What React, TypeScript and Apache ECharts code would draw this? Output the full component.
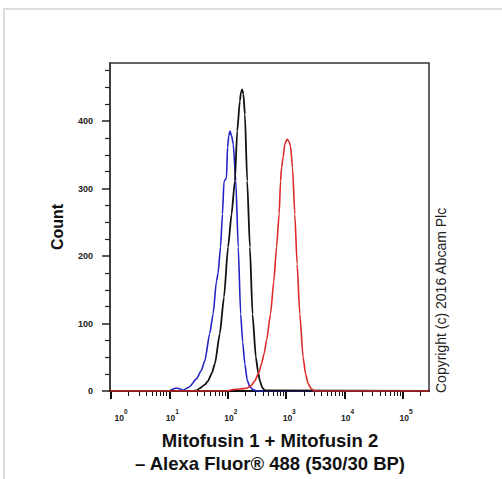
import React, { useEffect, useRef } from "react";
import * as echarts from "echarts";

// Fluorescence intensity (linear units) and event counts
const blueX = [0.96, 10, 11, 12.5, 14, 15.5, 17, 22, 29, 35, 40.5, 49, 56, 64, 68, 75, 81, 86, 95, 99, 104, 109, 116, 124, 137, 151, 166, 180, 196, 215, 239, 270, 310, 400, 278000];
const blueY = [0, 0, 2, 4, 4, 3, 1, 6, 18, 30, 45, 85, 114, 163, 174, 213, 262, 310, 316, 361, 378, 385, 378, 366, 311, 213, 114, 72, 40, 16, 6, 2, 0, 0, 0];

const blackX = [0.96, 25, 29.6, 33, 40, 46, 53, 60, 73, 86, 101, 116, 132, 145, 161, 168, 176, 185, 196, 215, 239, 265, 302, 330, 354, 390, 431, 278000];
const blackY = [0, 0, 1, 4, 9, 15, 26, 40, 85, 139, 213, 262, 311, 385, 430, 442, 447, 440, 410, 311, 213, 114, 50, 28, 15, 5, 1, 0];

const redX = [0.96, 100, 122, 160, 210, 250, 290, 335, 378, 420, 461, 539, 614, 683, 757, 800, 832, 886, 947, 1037, 1110, 1186, 1283, 1404, 1537, 1710, 1947, 2150, 2370, 2700, 3090, 278000];
const redY = [0, 0, 2, 3, 4, 8, 15, 26, 40, 56, 75, 114, 163, 213, 262, 311, 331, 346, 366, 373, 370, 363, 331, 262, 188, 114, 50, 25, 11, 3, 0, 0];

const decadeTicks = [0, 1, 2, 3, 4, 5];
const yMajorTicks = [0, 100, 200, 300, 400];
const yMinorTicks = [25, 50, 75, 125, 150, 175, 225, 250, 275, 325, 350, 375, 425, 450, 475];

const xTitle1 = "Mitofusin 1 + Mitofusin 2";
const xTitle2 = "– Alexa Fluor® 488 (530/30 BP)";
const yTitle = "Count";
const copyright = "Copyright (c) 2016 Abcam Plc";

const FONT = "'Liberation Sans', Arial, Helvetica, sans-serif";
const X_MIN = -0.017;
const X_MAX = 5.445;
const Y_MAX = 486;

function toPairs(xs: number[], ys: number[]) {
  return xs.map((x, i) => [Math.log10(x), ys[i]]);
}

function minorDecadeTicks() {
  const out: number[] = [];
  for (let d = 0; d <= 5; d++) {
    for (let k = 2; k <= 9; k++) {
      const v = Math.log10(k) + d;
      if (v < X_MAX) out.push(v);
    }
  }
  return out;
}

export default function App() {
  const ref = useRef<HTMLDivElement>(null);
  useEffect(() => {
    document.body.style.margin = "0";
    const chart = echarts.init(ref.current!, null, { renderer: "svg" });
    const option: any = {
      animation: false,
      backgroundColor: "#ffffff",
      grid: {
        left: 110,
        top: 63,
        width: 319,
        height: 328,
        show: true,
        borderColor: "#333",
        borderWidth: 1.5,
        backgroundColor: "transparent",
      },
      xAxis: [
        {
          type: "value",
          min: X_MIN,
          max: X_MAX,
          position: "bottom",
          axisLine: { show: true, onZero: false, lineStyle: { color: "#111", width: 2 } },
          axisTick: { show: true, customValues: decadeTicks, length: 8, lineStyle: { color: "#111", width: 2 } },
          splitLine: { show: false },
          axisLabel: {
            customValues: decadeTicks,
            margin: 17,
            formatter: (v: number) => (v === 0 ? `{z|10}{s|${v}}` : `{b|10}{s|${v}}`),
            rich: {
              b: { fontSize: 8.5, fontWeight: "bold", fontFamily: FONT, color: "#222", padding: [0, 0, 0, 6], lineHeight: 14, verticalAlign: "bottom" },
              z: { fontSize: 8.5, fontWeight: "bold", fontFamily: FONT, color: "#222", padding: [0, 0, 0, 20], lineHeight: 14, verticalAlign: "bottom" },
              s: { fontSize: 6.5, fontWeight: "bold", fontFamily: FONT, color: "#222", lineHeight: 6, verticalAlign: "top" },
            },
          },
        },
        {
          type: "value",
          min: X_MIN,
          max: X_MAX,
          position: "bottom",
          axisLine: { show: false, onZero: false },
          axisTick: { show: true, customValues: minorDecadeTicks(), length: 5, lineStyle: { color: "#111", width: 1 } },
          axisLabel: { show: false },
          splitLine: { show: false },
        },
      ],
      yAxis: [
        {
          type: "value",
          min: 0,
          max: Y_MAX,
          position: "left",
          axisLine: { show: true, onZero: false, lineStyle: { color: "#333", width: 1.5 } },
          axisTick: { show: true, customValues: yMajorTicks, length: 8, lineStyle: { color: "#222", width: 1.5 } },
          splitLine: { show: false },
          axisLabel: {
            customValues: yMajorTicks,
            margin: 17,
            fontSize: 9,
            fontWeight: "bold",
            fontFamily: FONT,
            color: "#222",
          },
        },
        {
          type: "value",
          min: 0,
          max: Y_MAX,
          position: "left",
          axisLine: { show: false, onZero: false },
          axisTick: { show: true, customValues: yMinorTicks, length: 5, lineStyle: { color: "#222", width: 1.2 } },
          axisLabel: { show: false },
          splitLine: { show: false },
        },
      ],
      series: [
        {
          type: "line",
          name: "blue",
          data: toPairs(blueX, blueY),
          symbol: "none",
          smooth: 0.2,
          smoothMonotone: "x",
          lineStyle: { color: "#2424c4", width: 1.6 },
          z: 2,
        },
        {
          type: "line",
          name: "black",
          data: toPairs(blackX, blackY),
          symbol: "none",
          smooth: 0.2,
          smoothMonotone: "x",
          lineStyle: { color: "#111111", width: 1.8 },
          z: 3,
        },
        {
          type: "line",
          name: "red",
          data: toPairs(redX, redY),
          symbol: "none",
          smooth: 0.2,
          smoothMonotone: "x",
          lineStyle: { color: "#dd2a2a", width: 1.6 },
          z: 4,
        },
      ],
      graphic: [
        {
          type: "rect",
          shape: { x: 4, y: 9, width: 700, height: 700 },
          style: { fill: "none", stroke: "#dcdcdc", lineWidth: 2 },
          silent: true,
        },
        {
          type: "text",
          x: 57,
          y: 227,
          rotation: Math.PI / 2,
          style: { text: yTitle, fontSize: 16, fontWeight: "bold", fontFamily: FONT, fill: "#111", align: "center", verticalAlign: "middle" },
        },
        {
          type: "text",
          x: 270,
          y: 440,
          style: { text: xTitle1, fontSize: 18.5, fontWeight: "bold", fontFamily: FONT, fill: "#111", align: "center", verticalAlign: "middle" },
        },
        {
          type: "text",
          x: 270,
          y: 463,
          style: { text: xTitle2, fontSize: 18.5, fontWeight: "bold", fontFamily: FONT, fill: "#111", align: "center", verticalAlign: "middle" },
        },
        {
          type: "text",
          x: 441,
          y: 393,
          rotation: Math.PI / 2,
          style: { text: copyright, fontSize: 14, fontFamily: FONT, fill: "#222", align: "left", verticalAlign: "middle" },
        },
      ],
    };
    chart.setOption(option);
    return () => chart.dispose();
  }, []);
  return <div ref={ref} style={{ width: 502, height: 479 }} />;
}
